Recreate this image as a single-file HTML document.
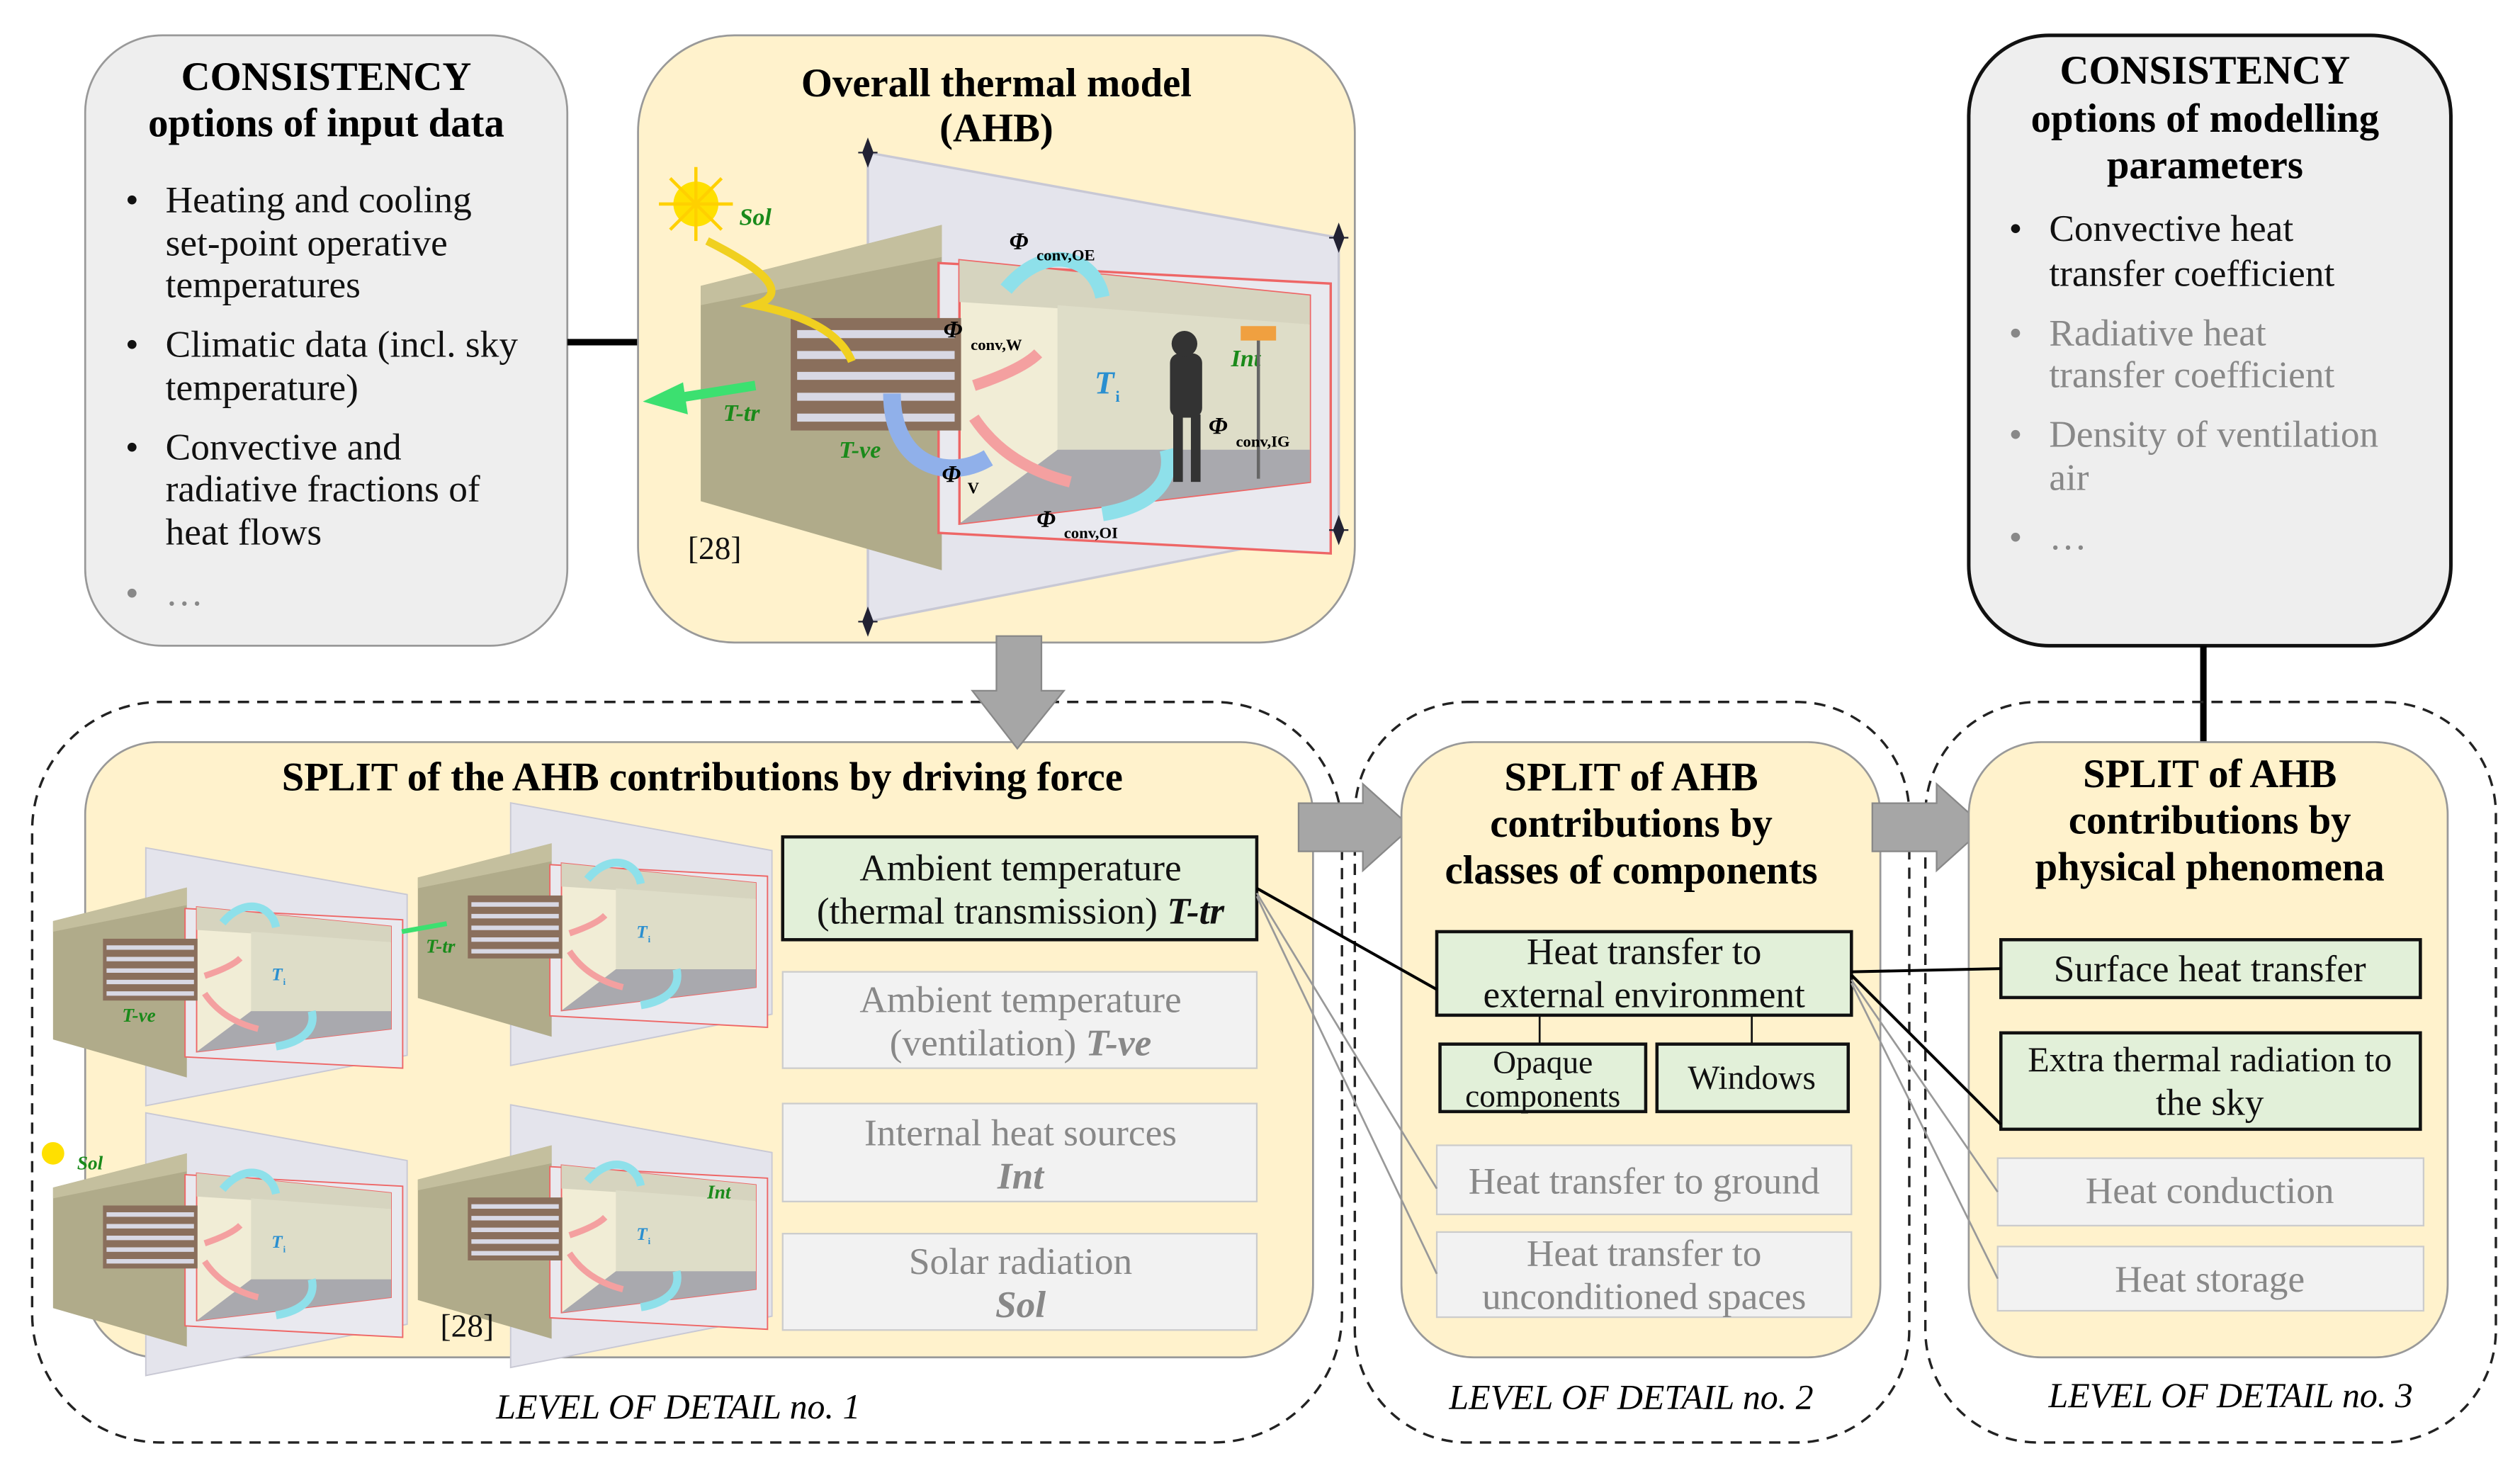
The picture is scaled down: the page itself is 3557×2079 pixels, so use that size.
<!DOCTYPE html>
<html><head><meta charset="utf-8"><style>
html,body{margin:0;padding:0;background:#fff}
svg{display:block}
text{font-family:"Liberation Serif",serif}
.t{font-size:25px;font-weight:bold;text-anchor:middle;fill:#000}
.b{font-size:23.5px;fill:#111}
.g{font-size:23.5px;fill:#888}
.c{text-anchor:middle}
.lv{font-size:22px;font-style:italic;text-anchor:middle}
.phi{font-size:15px;font-weight:bold;font-style:italic}
.sub{font-size:10px;font-weight:bold}
.gl{font-size:15px;font-weight:bold;font-style:italic;fill:#1a8a1a}
.ti{font-size:20px;font-weight:bold;font-style:italic;fill:#2a8fd0}
</style></head><body>
<svg width="3557" height="2079" viewBox="0 0 1568 917" preserveAspectRatio="none" xmlns="http://www.w3.org/2000/svg">
<defs>
<g id="room">
  <polygon points="104,5 397,58 397,240 104,297" fill="#e4e4ec" stroke="#c8c8d4" stroke-width="1.5"/>
  <polygon points="0,88 150,50 150,265 0,222" fill="#b0ab8a"/>
  <polygon points="0,88 150,50 150,70 0,100" fill="#c4bf9e"/>
  <rect x="148" y="66" width="244" height="168" fill="#e9e9ef" stroke="#e66" stroke-width="1.5" transform="skewY(3)"/>
  <polygon points="161,72 379,94 379,210 161,236" fill="#f1edd6" stroke="#e66" stroke-width="1.5"/>
  <polygon points="161,72 379,94 379,112 161,98" fill="#d6d4bf"/>
  <polygon points="222,100 379,112 379,210 222,190" fill="#deddc8"/>
  <polygon points="161,236 222,190 379,190 379,210" fill="#a9a9ae"/>
  <rect x="56" y="108" width="106" height="70" fill="#8a6f5c"/>
  <g stroke="#d8d8e4" stroke-width="5"><line x1="60" y1="118" x2="158" y2="118"/><line x1="60" y1="131" x2="158" y2="131"/><line x1="60" y1="144" x2="158" y2="144"/><line x1="60" y1="157" x2="158" y2="157"/><line x1="60" y1="170" x2="158" y2="170"/></g>
  <path d="M190,90 C215,60 245,70 250,95" fill="none" stroke="#8ee0ea" stroke-width="9"/>
  <path d="M170,150 Q200,140 210,130" fill="none" stroke="#f4a0a0" stroke-width="7"/>
  <path d="M170,170 Q190,200 230,210" fill="none" stroke="#f4a0a0" stroke-width="7"/>
  <path d="M250,230 C280,225 295,210 290,190" fill="none" stroke="#8ee0ea" stroke-width="9"/>
  <text x="245" y="155" class="ti">T</text><text x="258" y="160" class="sub" fill="#2a8fd0">i</text>
</g>
<g id="pin"><path d="M0,-8 L3,0 L0,8 L-3,0Z M-6,0 L6,0" fill="#223" stroke="#223" stroke-width="1"/></g>
</defs>

<!-- Top-left consistency box -->
<rect x="53" y="22" width="300" height="380" rx="48" fill="#eeeeee" stroke="#999" stroke-width="1.2"/>
<text x="203" y="56" class="t">CONSISTENCY</text>
<text x="203" y="85" class="t">options of input data</text>
<g class="b">
<text x="78" y="132">•</text><text x="103" y="132">Heating and cooling</text>
<text x="103" y="159">set-point operative</text>
<text x="103" y="185">temperatures</text>
<text x="78" y="222">•</text><text x="103" y="222">Climatic data (incl. sky</text>
<text x="103" y="249">temperature)</text>
<text x="78" y="286">•</text><text x="103" y="286">Convective and</text>
<text x="103" y="312">radiative fractions of</text>
<text x="103" y="339">heat flows</text>
</g>
<text x="78" y="377" class="g">•</text><text x="103" y="377" class="g">…</text>
<line x1="353" y1="213" x2="397" y2="213" stroke="#000" stroke-width="4"/>

<!-- Overall thermal model -->
<rect x="397" y="22" width="446" height="378" rx="60" fill="#fff2cc" stroke="#999" stroke-width="1.2"/>
<text x="620" y="60" class="t">Overall thermal model</text>
<text x="620" y="88" class="t">(AHB)</text>
<use href="#room" transform="translate(436,90)"/>
<use href="#pin" x="540" y="95"/><use href="#pin" x="833" y="148"/><use href="#pin" x="833" y="330"/><use href="#pin" x="540" y="387"/>
<circle cx="433" cy="127" r="14" fill="#ffe000"/>
<g stroke="#ffd000" stroke-width="2"><line x1="410" y1="127" x2="456" y2="127"/><line x1="433" y1="104" x2="433" y2="150"/><line x1="417" y1="111" x2="449" y2="143"/><line x1="449" y1="111" x2="417" y2="143"/></g>
<path d="M440,150 Q500,180 470,190 Q520,200 530,225" fill="none" stroke="#f0d020" stroke-width="5"/>
<text x="460" y="140" class="gl">Sol</text>
<path d="M470,240 L420,248" stroke="#3ce070" stroke-width="6"/><polygon points="400,250 425,238 428,258" fill="#3ce070"/>
<text x="450" y="262" class="gl">T-tr</text>
<text x="522" y="285" class="gl">T-ve</text>
<path d="M555,245 C555,290 590,300 615,285" fill="none" stroke="#90b0ea" stroke-width="11"/>
<text x="766" y="228" class="gl">Int</text>
<rect x="728" y="220" width="20" height="40" fill="#333" rx="6"/><circle cx="737" cy="214" r="8" fill="#333"/>
<rect x="730" y="258" width="6" height="42" fill="#333"/><rect x="741" y="258" width="6" height="42" fill="#333"/>
<line x1="783" y1="210" x2="783" y2="298" stroke="#666" stroke-width="2"/><rect x="772" y="203" width="22" height="9" fill="#f0a040"/>
<text x="628" y="155" class="phi">Φ</text><text x="645" y="162" class="sub">conv,OE</text>
<text x="587" y="210" class="phi">Φ</text><text x="604" y="218" class="sub">conv,W</text>
<text x="752" y="270" class="phi">Φ</text><text x="769" y="278" class="sub">conv,IG</text>
<text x="586" y="300" class="phi">Φ</text><text x="602" y="307" class="sub">V</text>
<text x="645" y="328" class="phi">Φ</text><text x="662" y="335" class="sub">conv,OI</text>
<text x="428" y="348" class="b" style="font-size:20px">[28]</text>

<!-- Top-right consistency -->
<rect x="1225" y="22" width="300" height="380" rx="50" fill="#eeeeee" stroke="#111" stroke-width="2.2"/>
<text x="1372" y="52" class="t">CONSISTENCY</text>
<text x="1372" y="82" class="t">options of modelling</text>
<text x="1372" y="111" class="t">parameters</text>
<text x="1250" y="150" class="b">•</text><text x="1275" y="150" class="b">Convective heat</text>
<text x="1275" y="178" class="b">transfer coefficient</text>
<text x="1250" y="215" class="g">•</text><text x="1275" y="215" class="g">Radiative heat</text>
<text x="1275" y="241" class="g">transfer coefficient</text>
<text x="1250" y="278" class="g">•</text><text x="1275" y="278" class="g">Density of ventilation</text>
<text x="1275" y="305" class="g">air</text>
<text x="1250" y="342" class="g">•</text><text x="1275" y="342" class="g">…</text>
<line x1="1371" y1="402" x2="1371" y2="463" stroke="#000" stroke-width="4"/>

<!-- Dashed containers -->
<rect x="20" y="437" width="815" height="461" rx="80" fill="none" stroke="#222" stroke-width="1.5" stroke-dasharray="7,5"/>
<rect x="843" y="437" width="345" height="461" rx="70" fill="none" stroke="#222" stroke-width="1.5" stroke-dasharray="7,5"/>
<rect x="1198" y="437" width="355" height="461" rx="70" fill="none" stroke="#222" stroke-width="1.5" stroke-dasharray="7,5"/>

<!-- Level 1 -->
<rect x="53" y="462" width="764" height="383" rx="45" fill="#fff2cc" stroke="#999" stroke-width="1.2"/>
<polygon points="620,396 648,396 648,430 662,430 633,466 605,430 620,430" fill="#a6a6a6" stroke="#888"/>
<text x="437" y="492" class="t">SPLIT of the AHB contributions by driving force</text>
<use href="#room" transform="translate(33,525) scale(0.555,0.55)"/>
<use href="#room" transform="translate(260,497) scale(0.555,0.56)"/>
<use href="#room" transform="translate(33,690) scale(0.555,0.56)"/>
<use href="#room" transform="translate(260,685) scale(0.555,0.56)"/>
<text x="265" y="593" class="gl" style="font-size:12px">T-tr</text>
<path d="M278,575 L250,580" stroke="#3ce070" stroke-width="3"/>
<text x="76" y="636" class="gl" style="font-size:12px">T-ve</text>
<text x="48" y="728" class="gl" style="font-size:12px">Sol</text>
<circle cx="33" cy="718" r="7" fill="#ffe000"/>
<text x="440" y="746" class="gl" style="font-size:12px">Int</text>
<text x="274" y="832" class="b" style="font-size:20px">[28]</text>
<rect x="487" y="521" width="295" height="64" fill="#e2f0d9" stroke="#111" stroke-width="2"/>
<text x="635" y="548" class="b c">Ambient temperature</text>
<text x="635" y="575" class="b c">(thermal transmission) <tspan font-style="italic" font-weight="bold">T-tr</tspan></text>
<rect x="487" y="605" width="295" height="60" fill="#f2f2f2" stroke="#ccc"/>
<text x="635" y="630" class="g c">Ambient temperature</text>
<text x="635" y="657" class="g c">(ventilation) <tspan font-style="italic" font-weight="bold">T-ve</tspan></text>
<rect x="487" y="687" width="295" height="61" fill="#f2f2f2" stroke="#ccc"/>
<text x="635" y="713" class="g c">Internal heat sources</text>
<text x="635" y="740" class="g c" font-style="italic" font-weight="bold">Int</text>
<rect x="487" y="768" width="295" height="60" fill="#f2f2f2" stroke="#ccc"/>
<text x="635" y="793" class="g c">Solar radiation</text>
<text x="635" y="820" class="g c" font-style="italic" font-weight="bold">Sol</text>
<text x="422" y="883" class="lv">LEVEL OF DETAIL no. 1</text>

<polygon points="808,500 848,500 848,488 878,515 848,542 848,530 808,530" fill="#a6a6a6" stroke="#888"/>

<!-- Level 2 -->
<rect x="872" y="462" width="298" height="383" rx="45" fill="#fff2cc" stroke="#999" stroke-width="1.2"/>
<text x="1015" y="492" class="t">SPLIT of AHB</text>
<text x="1015" y="521" class="t">contributions by</text>
<text x="1015" y="550" class="t">classes of components</text>
<rect x="894" y="580" width="258" height="52" fill="#e2f0d9" stroke="#111" stroke-width="2"/>
<text x="1023" y="600" class="b c">Heat transfer to</text>
<text x="1023" y="627" class="b c">external environment</text>
<line x1="958" y1="632" x2="958" y2="650" stroke="#111" stroke-width="1.2"/>
<line x1="1090" y1="632" x2="1090" y2="650" stroke="#111" stroke-width="1.2"/>
<rect x="896" y="650" width="128" height="42" fill="#e2f0d9" stroke="#111" stroke-width="2"/>
<text x="960" y="668" class="b c" style="font-size:20px">Opaque</text>
<text x="960" y="689" class="b c" style="font-size:20px">components</text>
<rect x="1031" y="650" width="119" height="42" fill="#e2f0d9" stroke="#111" stroke-width="2"/>
<text x="1090" y="678" class="b c" style="font-size:21px">Windows</text>
<rect x="894" y="713" width="258" height="43" fill="#f2f2f2" stroke="#ccc"/>
<text x="1023" y="743" class="g c">Heat transfer to ground</text>
<rect x="894" y="767" width="258" height="53" fill="#f2f2f2" stroke="#ccc"/>
<text x="1023" y="788" class="g c">Heat transfer to</text>
<text x="1023" y="815" class="g c">unconditioned spaces</text>
<text x="1015" y="877" class="lv">LEVEL OF DETAIL no. 2</text>

<polygon points="1165,500 1205,500 1205,488 1235,515 1205,542 1205,530 1165,530" fill="#a6a6a6" stroke="#888"/>

<!-- Level 3 -->
<rect x="1225" y="462" width="298" height="383" rx="45" fill="#fff2cc" stroke="#999" stroke-width="1.2"/>
<text x="1375" y="490" class="t">SPLIT of AHB</text>
<text x="1375" y="519" class="t">contributions by</text>
<text x="1375" y="548" class="t">physical phenomena</text>
<rect x="1245" y="585" width="261" height="36" fill="#e2f0d9" stroke="#111" stroke-width="2"/>
<text x="1375" y="611" class="b c">Surface heat transfer</text>
<rect x="1245" y="643" width="261" height="60" fill="#e2f0d9" stroke="#111" stroke-width="2"/>
<text x="1375" y="667" class="b c" style="font-size:22px">Extra thermal radiation to</text>
<text x="1375" y="694" class="b c">the sky</text>
<rect x="1243" y="721" width="265" height="42" fill="#f2f2f2" stroke="#ccc"/>
<text x="1375" y="749" class="g c">Heat conduction</text>
<rect x="1243" y="776" width="265" height="40" fill="#f2f2f2" stroke="#ccc"/>
<text x="1375" y="804" class="g c">Heat storage</text>
<text x="1388" y="876" class="lv">LEVEL OF DETAIL no. 3</text>

<!-- connectors -->
<g stroke="#999" stroke-width="1.2" fill="none">
<line x1="782" y1="556" x2="894" y2="740"/><line x1="782" y1="558" x2="894" y2="793"/>
<line x1="1152" y1="610" x2="1243" y2="742"/><line x1="1152" y1="612" x2="1243" y2="796"/>
</g>
<g stroke="#000" stroke-width="1.8" fill="none">
<line x1="782" y1="553" x2="894" y2="616"/>
<line x1="1152" y1="605" x2="1245" y2="603"/>
<line x1="1152" y1="607" x2="1245" y2="700"/>
</g>
</svg>
</body></html>
